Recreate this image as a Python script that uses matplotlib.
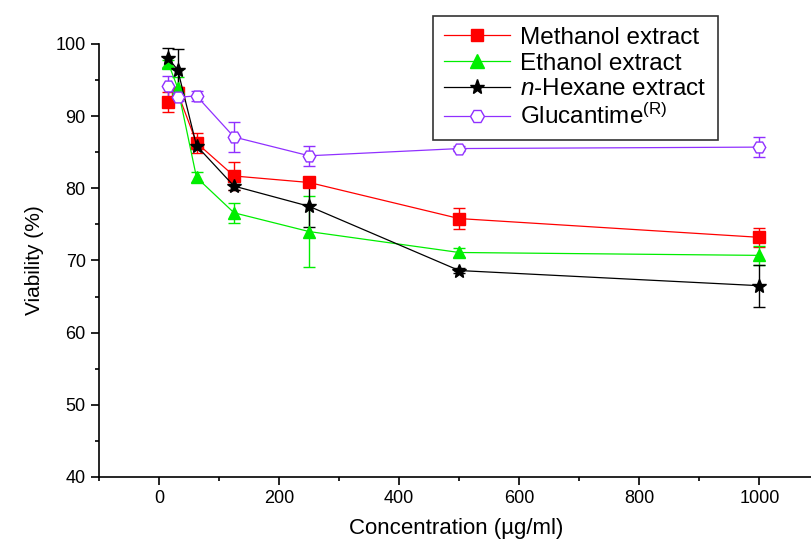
import numpy as np
import matplotlib
matplotlib.use("Agg")
import matplotlib.pyplot as plt
from matplotlib.lines import Line2D

plt.rcParams['font.family'] = ['Liberation Sans', 'DejaVu Sans']
plt.rcParams['mathtext.fontset'] = 'custom'
plt.rcParams['mathtext.rm'] = 'Liberation Sans'
plt.rcParams['mathtext.it'] = 'Liberation Sans:italic'

conc = [15.6, 31.25, 62.5, 125, 250, 500, 1000]

methanol = [91.9, 93.2, 86.3, 81.7, 80.8, 75.8, 73.2]
methanol_err = [1.4, 0.8, 1.4, 2.0, 0.5, 1.4, 1.3]

ethanol = [97.3, 93.9, 81.5, 76.6, 74.0, 71.1, 70.7]
ethanol_err = [0.5, 1.5, 0.7, 1.4, 4.9, 0.6, 1.3]

hexane = [98.0, 96.4, 85.9, 80.3, 77.5, 68.6, 66.5]
hexane_err = [1.4, 2.9, 0.5, 0.5, 2.8, 0.3, 2.9]

glucantime = [94.1, 92.6, 92.8, 87.1, 84.5, 85.5, 85.7]
glucantime_err = [1.5, 0.5, 0.7, 2.1, 1.4, 0.3, 1.4]

series = [
    (methanol, methanol_err, '#ff0000', 's', 8, '#ff0000', 'Methanol extract'),
    (ethanol, ethanol_err, '#00ee00', '^', 9, '#00ee00', 'Ethanol extract'),
    (hexane, hexane_err, 'black', '*', 10, 'black', '$n$-Hexane extract'),
    (glucantime, glucantime_err, '#9030ff', 'H', 9, 'white', 'Glucantime$^{\\rm (R)}$'),
]

fig = plt.figure(figsize=(8.11, 5.42), dpi=100)
ax = fig.add_axes([0.122, 0.12, 0.881, 0.799])

handles = []
for vals, err, col, mk, ms, fc, lab in series:
    ax.errorbar(conc, vals, yerr=err, color=col, marker=mk, markersize=ms,
                markerfacecolor=fc, markeredgewidth=1, capsize=4,
                elinewidth=1, capthick=1, linewidth=0.9)
    handles.append(Line2D([], [], color=col, marker=mk, markersize=ms + 1,
                          markerfacecolor=fc, markeredgewidth=1,
                          linewidth=0.9, label=lab))

ax.set_xlim(-100, 1090)
ax.set_ylim(40, 100)
ax.set_xticks([0, 200, 400, 600, 800, 1000])
ax.set_xticks([-100, 100, 300, 500, 700, 900], minor=True)
ax.set_yticks([40, 50, 60, 70, 80, 90, 100])
ax.set_yticks([45, 55, 65, 75, 85, 95], minor=True)
ax.spines['top'].set_visible(False)
ax.spines['right'].set_visible(False)
ax.spines['left'].set_linewidth(1.2)
ax.spines['bottom'].set_linewidth(1.2)
ax.tick_params(which='major', direction='out', length=6, width=1.2, labelsize=13)
ax.tick_params(which='minor', direction='out', length=3, width=1.2)

ax.set_xlabel('Concentration (\u00b5g/ml)', fontsize=16, labelpad=8)
ax.set_ylabel('Viability (%)', fontsize=15, labelpad=8)

leg = ax.legend(handles=handles, loc='upper left',
                bbox_to_anchor=(433 / 811, 1 - 16 / 542),
                bbox_transform=fig.transFigure, fontsize=17.5, frameon=True,
                fancybox=False, edgecolor='black', handlelength=2.7,
                borderpad=0.45, labelspacing=0.15, handletextpad=0.45,
                borderaxespad=0)
leg.get_frame().set_linewidth(1.2)

fig.savefig('out.png', dpi=100)
